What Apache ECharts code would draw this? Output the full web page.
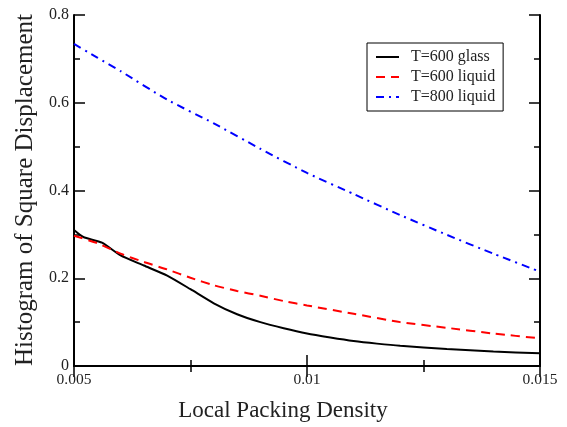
<!DOCTYPE html>
<html>
<head>
<meta charset="utf-8">
<script src="https://cdn.jsdelivr.net/npm/echarts@6/dist/echarts.min.js"></script>
<style>
  html, body { margin: 0; padding: 0; background: #fff; }
  #chart { width: 567px; height: 427px; }
</style>
</head>
<body>
<div id="chart"></div>
<script>
// Local packing density samples and histogram values per run
const glassX = [0.005, 0.0052, 0.0056, 0.006, 0.0065, 0.007, 0.0075, 0.008, 0.0085, 0.009, 0.0095, 0.010, 0.0105, 0.011, 0.0115, 0.012, 0.013, 0.014, 0.015];
const glassT600 = [0.31, 0.294, 0.281, 0.252, 0.229, 0.206, 0.175, 0.143, 0.118, 0.100, 0.086, 0.074, 0.065, 0.057, 0.051, 0.046, 0.039, 0.033, 0.029];

const liquidX = [0.005, 0.0055, 0.006, 0.0065, 0.007, 0.0075, 0.008, 0.0085, 0.009, 0.0095, 0.010, 0.011, 0.012, 0.013, 0.014, 0.015];
const liquidT600 = [0.297, 0.28, 0.256, 0.237, 0.22, 0.201, 0.184, 0.171, 0.16, 0.148, 0.138, 0.119, 0.10, 0.087, 0.074, 0.063];

const hotX = [0.005, 0.0055, 0.006, 0.007, 0.008, 0.009, 0.010, 0.011, 0.012, 0.013, 0.014, 0.015];
const liquidT800 = [0.734, 0.703, 0.672, 0.607, 0.553, 0.495, 0.44, 0.392, 0.344, 0.299, 0.256, 0.215];

const seriesNames = ['T=600 glass', 'T=600 liquid', 'T=800 liquid'];
const xTitle = 'Local Packing Density';
const yTitle = 'Histogram of Square Displacement';

const serif = '"Liberation Serif", "DejaVu Serif", serif';

function pairs(xs, ys) { return xs.map((x, i) => [x, ys[i]]); }

function fmtX(v) {
  return String(Math.round(v * 10000) / 10000);
}
function fmtY(v) {
  return String(Math.round(v * 10) / 10);
}

const axisLine = { show: true, lineStyle: { color: '#000', width: 2 } };
const tick = { show: true, inside: true, length: 11, lineStyle: { color: '#000', width: 1.5 } };
const minor = { show: true, splitNumber: 2, length: 6, lineStyle: { color: '#000', width: 1.5 } };

const chart = echarts.init(document.getElementById('chart'), null, { renderer: 'canvas' });
chart.setOption({
  animation: false,
  backgroundColor: '#fff',
  grid: { left: 74, right: 27, top: 15, bottom: 61 },
  xAxis: [
    {
      type: 'value', min: 0.005, max: 0.015, interval: 0.005, position: 'bottom',
      axisLine, axisTick: tick, minorTick: minor, splitLine: { show: false },
      axisLabel: { formatter: fmtX, color: '#222', fontFamily: serif, fontSize: 15.5, margin: 6 }
    },
    {
      type: 'value', min: 0.005, max: 0.015, interval: 0.005, position: 'top',
      axisLine, axisTick: tick, minorTick: minor, splitLine: { show: false },
      axisLabel: { show: false }
    }
  ],
  yAxis: [
    {
      type: 'value', min: 0, max: 0.8, interval: 0.2, position: 'left',
      axisLine, axisTick: tick, minorTick: minor, splitLine: { show: false },
      axisLabel: { formatter: fmtY, color: '#222', fontFamily: serif, fontSize: 16, margin: 5 }
    },
    {
      type: 'value', min: 0, max: 0.8, interval: 0.2, position: 'right',
      axisLine, axisTick: tick, minorTick: minor, splitLine: { show: false },
      axisLabel: { show: false }
    }
  ],
  legend: {
    show: true,
    orient: 'vertical',
    left: 367, top: 43,
    padding: [6, 8, 6, 8],
    itemGap: 4,
    itemWidth: 23, itemHeight: 14,
    borderColor: '#000', borderWidth: 1,
    backgroundColor: '#fff',
    itemStyle: { opacity: 0 },
    textStyle: { fontFamily: serif, fontSize: 16, color: '#222', padding: [0, 0, 0, 7] },
    data: seriesNames
  },
  graphic: [
    {
      type: 'text', x: 283, y: 411,
      style: { text: xTitle, fontFamily: serif, fontSize: 23, fill: '#222', textAlign: 'center', textVerticalAlign: 'middle' }
    },
    {
      type: 'text', x: 25, y: 190, rotation: Math.PI / 2,
      style: { text: yTitle, fontFamily: serif, fontSize: 25, fill: '#222', textAlign: 'center', textVerticalAlign: 'middle' }
    }
  ],
  series: [
    {
      name: seriesNames[0], type: 'line', symbol: 'none', smooth: 0.2,
      data: pairs(glassX, glassT600),
      lineStyle: { color: '#000', width: 2 }, itemStyle: { color: '#000' }
    },
    {
      name: seriesNames[1], type: 'line', symbol: 'none', smooth: 0.2,
      data: pairs(liquidX, liquidT600),
      lineStyle: { color: '#ff0000', width: 2, type: [9, 6] }, itemStyle: { color: '#ff0000' }
    },
    {
      name: seriesNames[2], type: 'line', symbol: 'none', smooth: 0.2,
      data: pairs(hotX, liquidT800),
      lineStyle: { color: '#0000ff', width: 2, type: [8, 5, 2, 5] }, itemStyle: { color: '#0000ff' }
    }
  ]
});
</script>
</body>
</html>
